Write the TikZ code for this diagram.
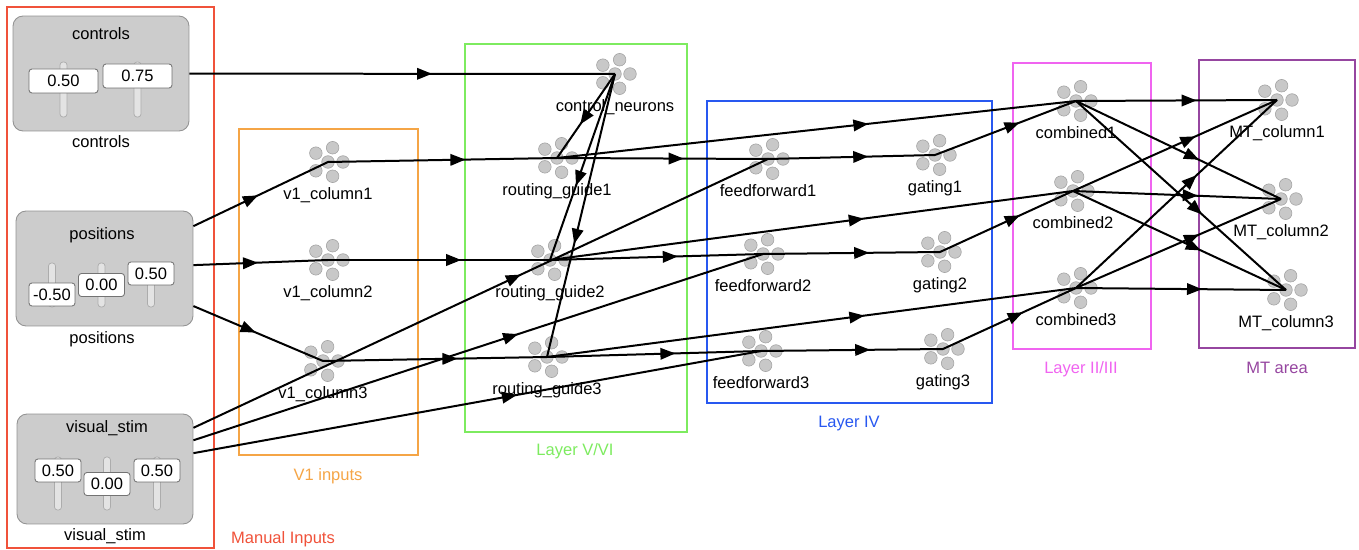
\documentclass[tikz,border=0pt]{standalone}
\usepackage{fontspec}
\setmainfont{Liberation Sans}
\usetikzlibrary{arrows.meta,decorations.markings,calc}

\definecolor{manualred}{RGB}{240,82,58}
\definecolor{vonecol}{RGB}{245,165,70}
\definecolor{layerfive}{RGB}{125,235,95}
\definecolor{layerfour}{RGB}{40,88,240}
\definecolor{layertwo}{RGB}{240,100,240}
\definecolor{mtcol}{RGB}{150,70,160}
\definecolor{neurongray}{RGB}{200,200,200}
\definecolor{widgetgray}{RGB}{204,204,204}

\begin{document}
\begin{tikzpicture}[x=0.02cm, y=-0.02cm, font=\fontsize{9.4}{11}\selectfont,
    neuron/.style={circle, fill=neurongray, draw=gray!75, line width=0.3pt, inner sep=0pt, minimum size=0.252cm},
    ename/.style={anchor=base},
    group/.style={line width=0.035cm},
    sliderbox/.style={draw=gray!85, fill=widgetgray, rounded corners=0.2cm, line width=0.5pt, inner sep=0pt},
    track/.style={draw=gray!65, fill=gray!22, rounded corners=0.06cm, line width=0.4pt},
    valbox/.style={draw=gray!90!black, fill=white, rounded corners=0.06cm, line width=0.5pt, inner sep=0pt},
    conn/.style={line width=0.04cm, postaction={decorate},
        decoration={markings, mark=at position #1 with {\arrow{Triangle[length=0.3cm, width=0.23cm]}}}},
    conn/.default=0.6]

    \useasboundingbox (0,0) rectangle (1359,550);

    % groups
    \draw[group, manualred] (7,7) rectangle (214,548);
    \node[ename, text=manualred] at (283,543) {Manual Inputs};
    \draw[group, vonecol] (239,129) rectangle (418,455);
    \node[ename, text=vonecol] at (328,480) {V1 inputs};
    \draw[group, layerfive] (465,44) rectangle (687,432);
    \node[ename, text=layerfive] at (575,456) {Layer V/VI};
    \draw[group, layerfour] (707,101) rectangle (992,403);
    \node[ename, text=layerfour] at (849,427) {Layer IV};
    \draw[group, layertwo] (1013,63) rectangle (1151,349);
    \node[ename, text=layertwo] at (1081,374) {Layer II/III};
    \draw[group, mtcol] (1199,60) rectangle (1355,348);
    \node[ename, text=mtcol] at (1277,374) {MT area};

    % slider widgets
    \node[sliderbox, minimum width=3.52cm, minimum height=2.3cm] (controls) at (101,73.5) {};
    \node[ename] at (101,40) {controls};
    \node[ename] at (101,148) {controls};
    \foreach \x/\y/\v in {63.5/81/0.50, 137.5/76/0.75} {
        \draw[track] (\x-3.5,62) rectangle (\x+3.5,117);
        \node[valbox, minimum width=1.38cm, minimum height=0.48cm] at (\x,\y) {\v};
    }

    \node[sliderbox, minimum width=3.54cm, minimum height=2.3cm] (positions) at (104.5,268.5) {};
    \node[ename] at (102,240) {positions};
    \node[ename] at (102,344) {positions};
    \foreach \x/\y/\v in {52/294.5/-0.50, 101.5/285/0.00, 151/273.5/0.50} {
        \draw[track] (\x-3.5,263) rectangle (\x+3.5,307);
        \node[valbox, minimum width=0.92cm, minimum height=0.46cm] at (\x,\y) {\v};
    }

    \node[sliderbox, minimum width=3.52cm, minimum height=2.2cm] (vstim) at (105,469) {};
    \node[ename] at (107,433) {visual\_stim};
    \node[ename] at (105,540) {visual\_stim};
    \foreach \x/\y/\v in {58/470.5/0.50, 107/484/0.00, 157/470.5/0.50} {
        \draw[track] (\x-3.5,457) rectangle (\x+3.5,510);
        \node[valbox, minimum width=0.92cm, minimum height=0.46cm] at (\x,\y) {\v};
    }

    % ensembles
    \foreach \n/\x/\y/\t in {cn/615/74/control\_neurons,
            v1c1/328/162/v1\_column1, v1c2/328/260/v1\_column2, v1c3/323/361/v1\_column3,
            rg1/557/158/routing\_guide1, rg2/550/260/routing\_guide2, rg3/547/357/routing\_guide3,
            ff1/768/159/feedforward1, ff2/763/254/feedforward2, ff3/761/351/feedforward3,
            gate1/935/155/gating1, gate2/940/252/gating2, gate3/943/349/gating3,
            comb1/1076/101/combined1, comb2/1073/191/combined2, comb3/1076/288/combined3,
            mt1/1277/100/MT\_column1, mt2/1281/199/MT\_column2, mt3/1286/290/MT\_column3} {
        \coordinate (\n) at (\x,\y);
        \node[neuron] at (\x,\y) {};
        \foreach \a in {0,72,...,288}
            \node[neuron] at ($(\x,\y)+(\a:15)$) {};
        \node[ename] at (\x,\y+37.5) {\t};
    }

    % connections
    \draw[conn=0.57] (controls) -- (cn);
    \foreach \t in {v1c1,v1c2,v1c3}
        \draw[conn=0.48] (positions) -- (\t);
    \foreach \t in {ff1,ff2,ff3}
        \draw[conn=0.57] (vstim) -- (\t);
    \foreach \i in {1,2,3} {
        \draw[conn] (v1c\i) -- (rg\i);
        \draw[conn] (cn) -- (rg\i);
        \draw[conn] (rg\i) -- (ff\i);
        \draw[conn] (rg\i) -- (comb\i);
        \draw[conn] (ff\i) -- (gate\i);
        \draw[conn] (gate\i) -- (comb\i);
        \foreach \j in {1,2,3}
            \draw[conn] (comb\i) -- (mt\j);
    }
\end{tikzpicture}
\end{document}
